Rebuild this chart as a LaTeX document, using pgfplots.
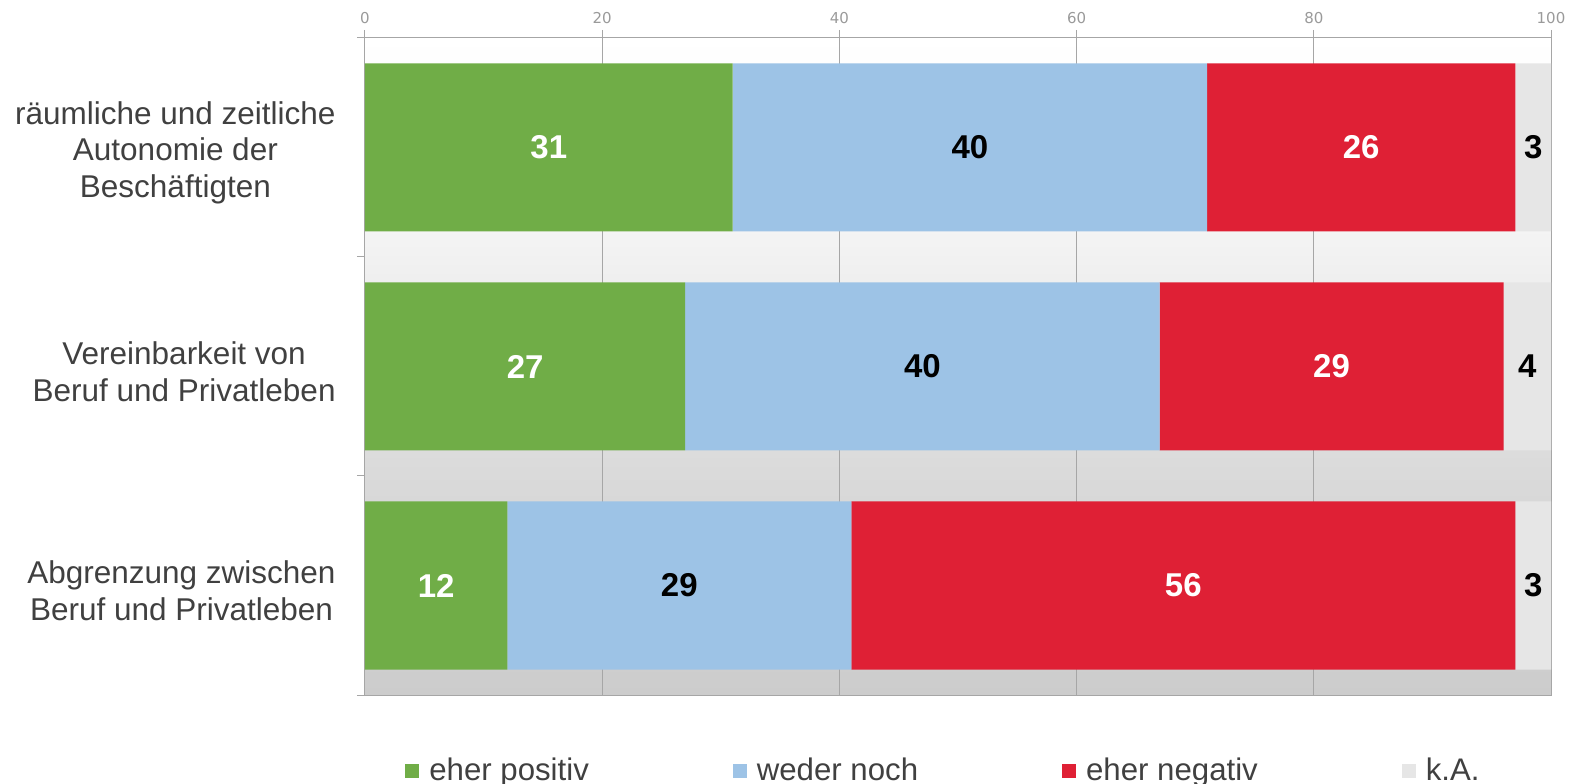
\documentclass[border=0pt]{standalone}
\usepackage{fontspec}
\setmainfont{Liberation Sans}
\newfontfamily\tickfont{DejaVu Sans}
\usepackage{pgfplots}
\usepackage{pgfplotstable}
\pgfplotsset{compat=1.18}
\definecolor{cpos}{HTML}{70AD47}
\definecolor{cneu}{HTML}{9DC3E6}
\definecolor{cneg}{HTML}{DF2035}
\definecolor{cka}{HTML}{E6E6E6}
\definecolor{axisgray}{HTML}{A6A6A6}
\definecolor{tickgray}{HTML}{9A9A9A}
\definecolor{labelgray}{HTML}{404040}
\definecolor{bgzero}{HTML}{CCCCCC}
\definecolor{bgone}{HTML}{DADADA}
\definecolor{bgtwo}{HTML}{F3F3F3}
\pgfdeclareverticalshading{axisbg}{100bp}{color(0bp)=(bgzero); color(25bp)=(bgzero); color(42bp)=(bgone); color(59.5bp)=(bgtwo); color(75bp)=(white); color(100bp)=(white)}

\pgfplotstableread{
cat pos neu neg ka
2 31 40 26 3
1 27 40 29 4
0 12 29 56 3
}\data

\begin{document}
\begin{tikzpicture}
\begin{axis}[
  at={(0,0)}, anchor=south west,
  scale only axis, width=593bp, height=328.5bp,
  xbar stacked, bar width=84bp,
  xmin=0, xmax=100, ymin=-0.5, ymax=2.5,
  /pgf/number format/assume math mode=true,
  axis background/.style={shading=axisbg},
  xtick={0,20,...,100}, xtick pos=right, xticklabel pos=right,
  xmajorgrids, grid style={draw=axisgray, line width=0.5bp},
  axis line style={draw=axisgray, line width=0.5bp},
  tick style={draw=axisgray, line width=0.5bp},
  tick align=outside, major tick length=4bp,
  xticklabel style={font=\tickfont\fontsize{7.5bp}{9bp}\selectfont, text=tickgray, inner sep=0pt, yshift=3bp},
  ytick={-0.5,0.5,1.5,2.5}, yticklabels={}, ytick pos=left,
  extra y ticks={0,1,2},
  extra y tick labels={{Abgrenzung zwischen\\Beruf und Privatleben},{Vereinbarkeit von\\Beruf und Privatleben},{räumliche und zeitliche\\Autonomie der\\Beschäftigten}},
  extra y tick style={major tick length=0pt, yticklabel style={align=center, font=\fontsize{15.75bp}{18.25bp}\selectfont, text=labelgray, inner sep=0pt, xshift=-14.5bp, yshift=-2.5bp}},
  every node near coord/.append style={anchor=center, font=\fontsize{16.5bp}{19.5bp}\selectfont\bfseries},
  legend image code/.code={\fill[#1] (0bp,-3.5bp) rectangle (7bp,3.5bp);},
  legend columns=4,
  legend style={at={(0.0337,-0.115)}, anchor=west, draw=none, fill=none, font=\fontsize{15.6bp}{18bp}\selectfont, text=labelgray, inner sep=0pt,
    /tikz/every even column/.append style={column sep=70bp},
    /tikz/every odd column/.append style={column sep=3bp}},
]
\addplot[fill=cpos, draw=none, nodes near coords, point meta=explicit, every node near coord/.append style={text=white}] table[x=pos, y=cat, meta=pos]{\data};
\addplot[fill=cneu, draw=none, nodes near coords, point meta=explicit, every node near coord/.append style={text=black}] table[x=neu, y=cat, meta=neu]{\data};
\addplot[fill=cneg, draw=none, nodes near coords, point meta=explicit, every node near coord/.append style={text=white}] table[x=neg, y=cat, meta=neg]{\data};
\addplot[fill=cka, draw=none, nodes near coords, point meta=explicit, every node near coord/.append style={text=black}] table[x=ka, y=cat, meta=ka]{\data};
\legend{eher positiv, weder noch, eher negativ, k.A.}
\end{axis}
\pgfresetboundingbox
\useasboundingbox (-182.5bp,-44.5bp) rectangle (605bp,347.5bp);
\end{tikzpicture}
\end{document}
